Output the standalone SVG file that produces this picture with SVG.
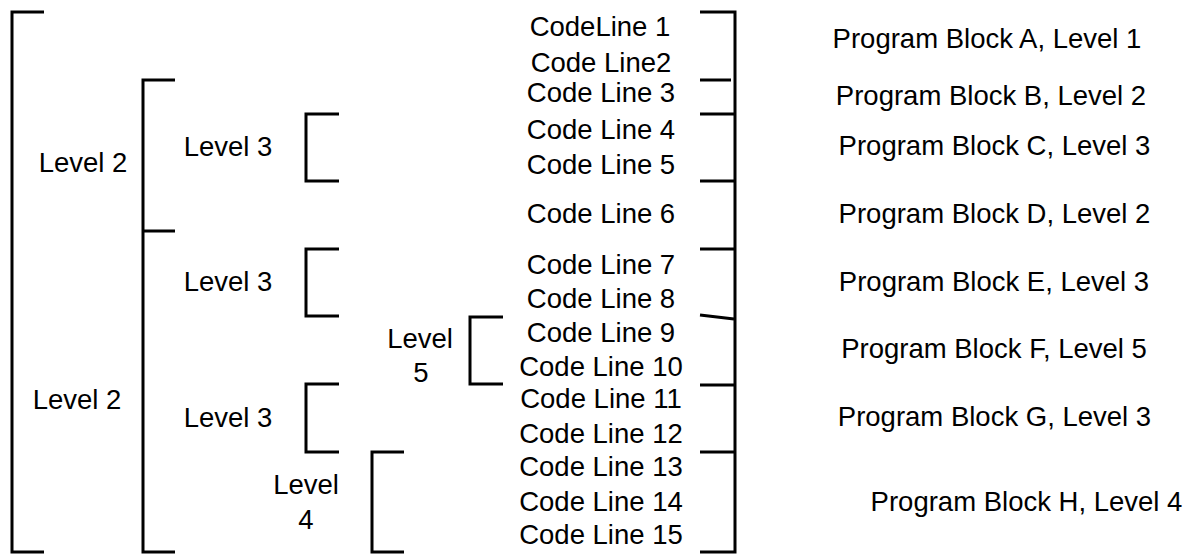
<svg xmlns="http://www.w3.org/2000/svg" width="1192" height="554" viewBox="0 0 1192 554">
  <style>
    .br { fill: none; stroke: #000; stroke-width: 3; stroke-linecap: butt; stroke-linejoin: miter; }
    text { font-family: "Liberation Sans", Arial, sans-serif; font-size: 27.5px; fill: #000; text-anchor: middle; }
  </style>
  <rect width="1192" height="554" fill="#fff"/>

  <!-- bracket lines -->
  <g id="connectors">
    <!-- outer bracket -->
    <path class="br" d="M44 12 H12 V552 H44"/>
    <!-- level 2 brackets -->
    <path class="br" d="M175 80 H143 V552 H175 M143 231 H175"/>
    <!-- level 3 brackets -->
    <path class="br" d="M339 114 H306 V181 H339"/>
    <path class="br" d="M339 249 H306 V316 H339"/>
    <path class="br" d="M339 384 H306 V452 H339"/>
    <!-- level 4 bracket -->
    <path class="br" d="M404 452 H372 V552 H404"/>
    <!-- level 5 bracket -->
    <path class="br" d="M503 317 H470 V384 H503"/>
    <!-- program block bracket -->
    <path class="br" d="M700 12 H735 V552 H700"/>
    <path class="br" d="M700 80 H731"/>
    <path class="br" d="M700 114 H735"/>
    <path class="br" d="M700 181 H735"/>
    <path class="br" d="M700 249 H735"/>
    <path class="br" d="M700 315 L734 319"/>
    <path class="br" d="M700 385 H735"/>
    <path class="br" d="M700 452 H735"/>
  </g>

  <!-- level labels -->
  <g id="level-labels">
    <text x="83" y="172">Level 2</text>
    <text x="77" y="409">Level 2</text>
    <text x="228" y="156">Level 3</text>
    <text x="228" y="291">Level 3</text>
    <text x="228" y="427">Level 3</text>
    <text x="306" y="494">Level</text>
    <text x="306" y="529">4</text>
    <text x="420" y="348">Level</text>
    <text x="421" y="382">5</text>
  </g>

  <!-- code lines -->
  <g id="code-lines">
    <text x="600" y="36">CodeLine 1</text>
    <text x="601" y="72">Code Line2</text>
    <text x="601" y="102">Code Line 3</text>
    <text x="601" y="139">Code Line 4</text>
    <text x="601" y="174">Code Line 5</text>
    <text x="601" y="223">Code Line 6</text>
    <text x="601" y="274">Code Line 7</text>
    <text x="601" y="308">Code Line 8</text>
    <text x="601" y="342">Code Line 9</text>
    <text x="601" y="376">Code Line 10</text>
    <text x="601" y="408">Code Line 11</text>
    <text x="601" y="443">Code Line 12</text>
    <text x="601" y="476">Code Line 13</text>
    <text x="601" y="511">Code Line 14</text>
    <text x="601" y="544">Code Line 15</text>
  </g>

  <!-- program block labels -->
  <g id="program-blocks">
    <text x="987" y="48">Program Block A, Level 1</text>
    <text x="991" y="105">Program Block B, Level 2</text>
    <text x="994.5" y="155">Program Block C, Level 3</text>
    <text x="994.5" y="223">Program Block D, Level 2</text>
    <text x="994" y="291">Program Block E, Level 3</text>
    <text x="994" y="358">Program Block F, Level 5</text>
    <text x="994.5" y="426">Program Block G, Level 3</text>
    <text x="1026.5" y="511">Program Block H, Level 4</text>
  </g>
</svg>
